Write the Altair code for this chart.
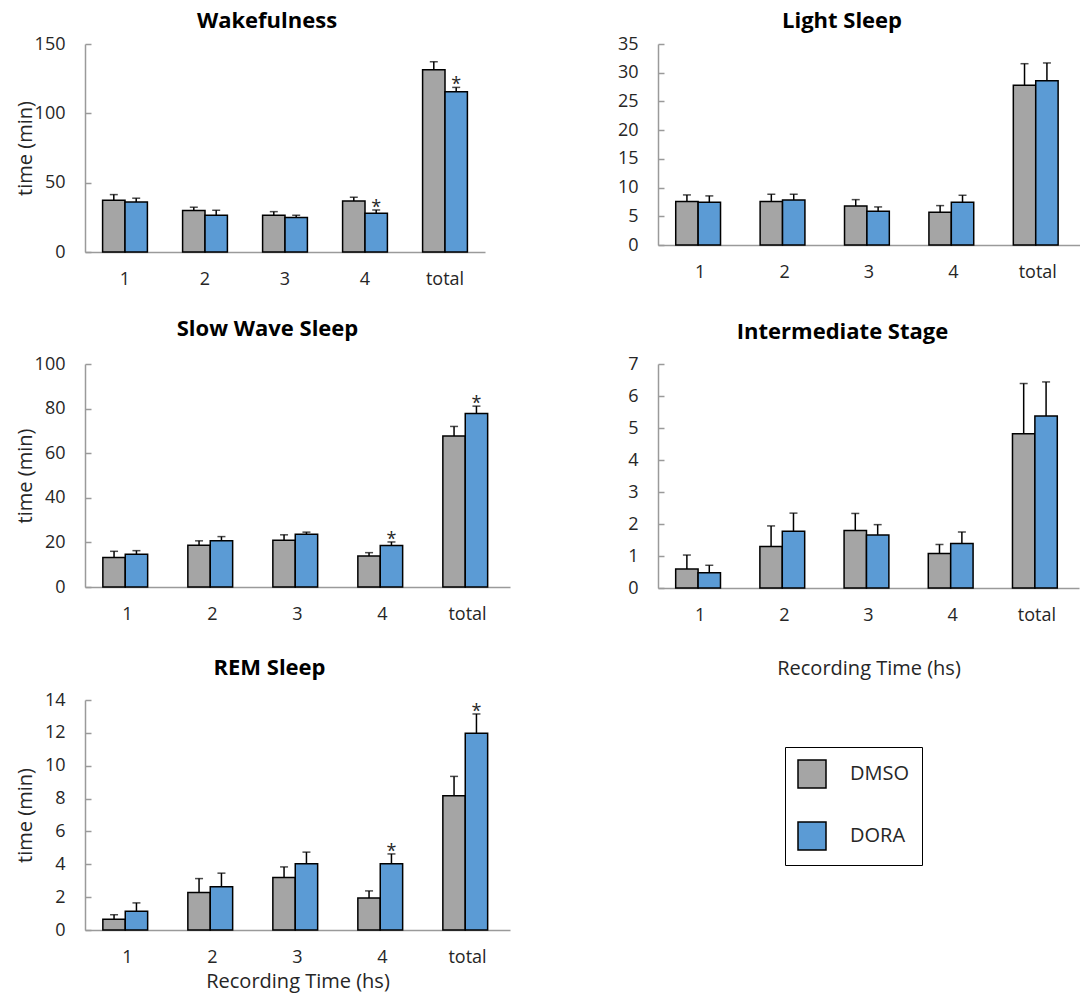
import altair as alt
import pandas as pd

HOURS = ["1", "2", "3", "4", "total"]
GROUPS = ["DMSO", "DORA"]
COLORS = ["#A5A5A5", "#5B9BD5"]

# Wakefulness
wake_dmso = [37.3, 29.9, 26.5, 36.8, 131.5]
wake_dmso_sem = [4.1, 2.4, 2.6, 2.7, 5.7]
wake_dora = [36.1, 26.5, 24.8, 27.9, 115.6]
wake_dora_sem = [2.7, 3.6, 1.7, 2.4, 3.1]
wake_sig = [False, False, False, True, True]

# Light Sleep
light_dmso = [7.56, 7.56, 6.8, 5.7, 27.8]
light_dmso_sem = [1.16, 1.28, 1.1, 1.16, 3.77]
light_dora = [7.44, 7.85, 5.87, 7.44, 28.6]
light_dora_sem = [1.11, 0.99, 0.76, 1.22, 3.1]
light_sig = [False, False, False, False, False]

# Slow Wave Sleep
sws_dmso = [13.2, 18.7, 21.0, 13.9, 67.7]
sws_dmso_sem = [2.8, 2.0, 2.4, 1.5, 4.3]
sws_dora = [14.7, 20.7, 23.7, 18.6, 77.8]
sws_dora_sem = [1.6, 1.9, 0.9, 1.6, 3.3]
sws_sig = [False, False, False, True, True]

# Intermediate Stage
is_dmso = [0.59, 1.30, 1.80, 1.08, 4.82]
is_dmso_sem = [0.44, 0.64, 0.53, 0.28, 1.57]
is_dora = [0.48, 1.77, 1.66, 1.39, 5.375]
is_dora_sem = [0.23, 0.57, 0.32, 0.36, 1.065]
is_sig = [False, False, False, False, False]

# REM Sleep
rem_dmso = [0.65, 2.28, 3.19, 1.95, 8.17]
rem_dmso_sem = [0.28, 0.85, 0.65, 0.43, 1.18]
rem_dora = [1.14, 2.64, 4.04, 4.04, 11.97]
rem_dora_sem = [0.51, 0.82, 0.70, 0.59, 1.18]
rem_sig = [False, False, False, True, True]

FONT = "Open Sans"
AXIS_GRAY = "#9A9A9A"
TEXT = "#262626"


def panel(title, dmso, dmso_sem, dora, dora_sem, sig, ymax, ystep, w, h,
          ytitle, xtitle, title_dx, title_offset, pad_inner, xtitle_pad):
    rows = []
    for i, hr in enumerate(HOURS):
        rows.append(dict(hour=hr, group="DMSO", value=dmso[i],
                         top=dmso[i] + dmso_sem[i], sig=False))
        rows.append(dict(hour=hr, group="DORA", value=dora[i],
                         top=dora[i] + dora_sem[i], sig=sig[i]))
    df = pd.DataFrame(rows)
    yvals = list(range(0, ymax + 1, ystep))
    yscale = alt.Scale(domain=[0, ymax], nice=False, zero=True)

    xaxis_kw = dict(ticks=False, tickSize=0, labelPadding=18, labelAngle=0,
                    labelFontSize=18, labelColor=TEXT, labelFont=FONT,
                    domainColor=AXIS_GRAY, domainWidth=1.5, grid=False)
    if xtitle:
        xaxis = alt.Axis(title=xtitle, titlePadding=xtitle_pad, titleFontSize=20,
                         titleFontWeight="normal", titleColor=TEXT, titleFont=FONT,
                         **xaxis_kw)
    else:
        xaxis = alt.Axis(title=None, **xaxis_kw)

    yaxis_kw = dict(orient="left", values=yvals, ticks=False, tickSize=0,
                    labelPadding=20, labelFontSize=18, labelColor=TEXT,
                    labelFont=FONT, domainColor=AXIS_GRAY, domainWidth=1.5,
                    grid=False)
    if ytitle:
        yaxis = alt.Axis(title=ytitle, titleFontSize=20, titleFontWeight="normal",
                         titleColor=TEXT, titleFont=FONT, titleX=-50, titleY=h / 2,
                         **yaxis_kw)
    else:
        yaxis = alt.Axis(title=None, **yaxis_kw)

    tick_axis = alt.Axis(orient="right", offset=-w, values=yvals, labels=False,
                         domain=False, ticks=True, tickSize=6, tickColor=AXIS_GRAY,
                         tickWidth=1.5, title=None, grid=False)

    base = alt.Chart(df).encode(
        x=alt.X("hour:N", sort=HOURS,
                scale=alt.Scale(paddingInner=pad_inner, paddingOuter=pad_inner / 2),
                axis=xaxis),
        xOffset=alt.XOffset("group:N", sort=GROUPS,
                            scale=alt.Scale(paddingInner=0, paddingOuter=0)),
    )
    bars = base.mark_bar(stroke="black", strokeWidth=1.5).encode(
        y=alt.Y("value:Q", scale=yscale, axis=yaxis),
        color=alt.Color("group:N", sort=GROUPS,
                        scale=alt.Scale(domain=GROUPS, range=COLORS),
                        legend=alt.Legend(title=None, orient="none", legendX=700,
                                          legendY=703, direction="vertical",
                                          symbolType="square", symbolSize=784,
                                          symbolStrokeColor="black",
                                          symbolStrokeWidth=1.5,
                                          labelFontSize=20, labelFont=FONT,
                                          labelColor=TEXT, labelOffset=23,
                                          rowPadding=28, padding=12,
                                          strokeColor="black")),
    )
    rules = base.mark_rule(color="black", strokeWidth=1.5).encode(
        y=alt.Y("value:Q", scale=yscale, axis=tick_axis),
        y2="top:Q",
    )
    caps = base.mark_tick(color="black", thickness=1.5, size=8).encode(
        y=alt.Y("top:Q", scale=yscale, axis=None),
    )
    stars = base.transform_filter("datum.sig").mark_text(
        text="*", fontSize=18, font=FONT, baseline="alphabetic", dy=3, color=TEXT
    ).encode(
        y=alt.Y("top:Q", scale=yscale, axis=None),
    )
    return alt.layer(bars, rules, caps, stars).resolve_axis(y="independent").properties(
        width=w, height=h,
        title=alt.TitleParams(title, fontSize=22, fontWeight="bold", font=FONT,
                              color="black", anchor="middle", frame="group",
                              dx=title_dx, offset=title_offset),
    )


p1 = panel("Wakefulness", wake_dmso, wake_dmso_sem, wake_dora, wake_dora_sem, wake_sig,
           150, 50, 400, 208, "time (min)", None, -18, 2, 0.44, 0)
p2 = panel("Light Sleep", light_dmso, light_dmso_sem, light_dora, light_dora_sem, light_sig,
           35, 5, 422, 201, None, None, -27, 2, 0.42, 0)
p3 = panel("Slow Wave Sleep", sws_dmso, sws_dmso_sem, sws_dora, sws_dora_sem, sws_sig,
           100, 20, 425, 223, "time (min)", None, -30, 14, 0.42, 0)
p4 = panel("Intermediate Stage", is_dmso, is_dmso_sem, is_dora, is_dora_sem, is_sig,
           7, 1, 421, 224, None, "Recording Time (hs)", -26, 11, 0.42, 34)
p5 = panel("REM Sleep", rem_dmso, rem_dmso_sem, rem_dora, rem_dora_sem, rem_sig,
           14, 2, 425, 230, "time (min)", "Recording Time (hs)", -28, 11, 0.42, 5)

chart = alt.concat(
    p1, p2, p3, p4, p5, columns=2, bounds="flush",
    spacing={"row": 112, "column": 148},
).properties(
    padding={"left": 15, "top": 10, "right": 0, "bottom": 6}
).configure(font=FONT).configure_view(stroke=None)

chart.save("out.html", embed_options={"renderer": "svg", "actions": False})
